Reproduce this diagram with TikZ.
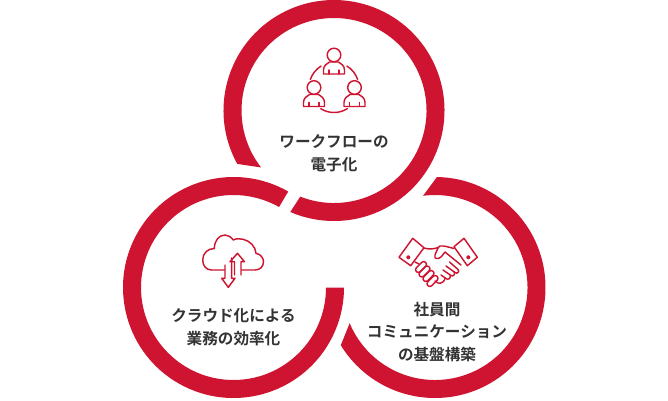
\documentclass[tikz,border=0pt]{standalone}
\usepackage{fontspec}
\usetikzlibrary{calc}
\newfontfamily\jpfont{Noto Sans CJK JP}[BoldFont={Noto Sans CJK JP Bold}]
\definecolor{brand}{HTML}{CF1431}
\definecolor{ink}{HTML}{333333}
\tikzset{
  ring/.style={fill=brand,draw=none},
  icon/.style={draw=brand,line width=1.45pt,line join=round,line cap=round,fill=none},
  label/.style={text=ink,align=center,font=\jpfont\bfseries\fontsize{15.6}{22.5}\selectfont,inner sep=0pt}
}
\begin{document}
\begin{tikzpicture}[x=1pt,y=1pt,yscale=-1]
\path[use as bounding box,fill=white] (0,0) rectangle (668,400);
% rings
\coordinate (ctop) at (334,110.5);
\coordinate (cleft) at (233.5,287.5);
\coordinate (cright) at (435,287.5);
\fill[ring] ($(ctop)+(-208.9:110.5)$) arc[start angle=-208.9,end angle=113.3,radius=110.5pt]
  -- ($(ctop)+(111.4:92.5)$) arc[start angle=111.4,end angle=-218,radius=92.5pt] -- cycle;
\fill[ring] ($(cleft)+(-60.3:110.5)$) arc[start angle=-60.3,end angle=-360,radius=110.5pt]
  -- ($(cleft)+(-360:92.5)$) arc[start angle=-360,end angle=-60.5,radius=92.5pt] -- cycle;
\fill[ring] ($(cright)+(-89:110.5)$) arc[start angle=-89,end angle=148.5,radius=110.5pt]
  -- ($(cright)+(157.3:92.5)$) arc[start angle=157.3,end angle=-97.4,radius=92.5pt] -- cycle;
% labels
\node[label] (lwf) at (334,153.5) {ワークフローの\\電子化};
\node[label] (lcl) at (233.5,327) {クラウド化による\\業務の効率化};
\node[label] (lcm) at (437,332) {社員間\\コミュニケーション\\の基盤構築};
% people icon
\foreach \px/\py in {334/74,314/106.5,354.5/106.5}{
  \begin{scope}[shift={(\px,\py)}]
    \draw[icon] (0,-19) circle[radius=6.8pt];
    \draw[icon] (-10.5,0) -- (-10.5,-4) .. controls (-10.5,-8.5) and (-7,-10.5) .. (-4.5,-12) -- (4.5,-12) .. controls (7,-10.5) and (10.5,-8.5) .. (10.5,-4) -- (10.5,0) -- cycle;
    \draw[icon] (-5,-4) -- (-5,0) (5,-4) -- (5,0);
  \end{scope}
}
\coordinate (pc) at (334,87.5);
\draw[icon] ($(pc)+(-161:25)$) arc[start angle=-161,end angle=-121,radius=25pt];
\draw[icon] ($(pc)+(-59:25)$) arc[start angle=-59,end angle=-19,radius=25pt];
\draw[icon] ($(pc)+(122:25)$) arc[start angle=122,end angle=58,radius=25pt];
% cloud icon
\draw[icon] (224.3,270) -- (211.7,270) .. controls (206,270) and (202.7,265.5) .. (202.7,260)
  .. controls (202.7,253) and (208,248.5) .. (214.3,248.5)
  .. controls (214.5,240.5) and (219,235) .. (225,235)
  .. controls (228,235) and (231,237) .. (233.3,240)
  .. controls (236,238.5) and (240,238.3) .. (243.3,239.3)
  .. controls (250,241) and (255.5,246.5) .. (256,253.3)
  .. controls (260.5,254) and (263.5,258) .. (263.5,261.7)
  .. controls (263.5,266.5) and (260,270) .. (255,270) -- (241.7,270);
% arrows
\draw[icon] (225,265) -- (225,278.3) -- (221.7,278.3) -- (228.3,287.3) -- (235,278.3) -- (231.7,278.3) -- (231.7,258);
\draw[icon] (234.5,275) -- (234.5,261.7) -- (230,261.7) -- (237.5,253.3) -- (244.5,261.7) -- (241,261.7) -- (241,275);
% handshake icon
\draw[icon] (399,257.3) -- (412.7,238.3) -- (424,247.7) -- (410.7,265.7) -- cycle;
\draw[icon] (454,246.7) -- (464,238.3) -- (477.3,257.3) -- (467.3,265.7) -- cycle;
\fill[brand] (408.3,257.3) circle[radius=2pt] (468.3,257.3) circle[radius=2pt];
\draw[icon] (423.5,248) .. controls (430,249.5) and (434,249) .. (438,247.5);
\draw[icon] (454,248.5) .. controls (448,247) and (444,245.5) .. (440,246) .. controls (438,247) and (437,250) .. (435,255) .. controls (434,257) and (435,259) .. (438,258.5) .. controls (441,258) and (443,254.5) .. (445,252) -- (461,265);
\draw[icon] (449.5,262) -- (458,269.5) .. controls (460,271.5) and (457,274.5) .. (455,272.5) -- (446,266);
\draw[icon] (454,271.5) .. controls (456,274) and (453,277) .. (451,275.5) -- (443,270);
\draw[icon] (450,275) .. controls (451.5,278) and (448,280.5) .. (446,278.5) -- (441,275);
\draw[icon] (445,278) .. controls (445,281) and (441.5,284) .. (438,283) -- (435,281);
\draw[icon] (415,262) -- (419,264);
\foreach \cx/\cy in {421/267,424.5/271.5,428.5/276,432.5/281}{
  \draw[icon,rounded corners=2.4pt,rotate around={-45:(\cx,\cy)}] (\cx-6.5,\cy-2.7) rectangle (\cx+6.5,\cy+2.7);
}
\end{tikzpicture}
\end{document}
